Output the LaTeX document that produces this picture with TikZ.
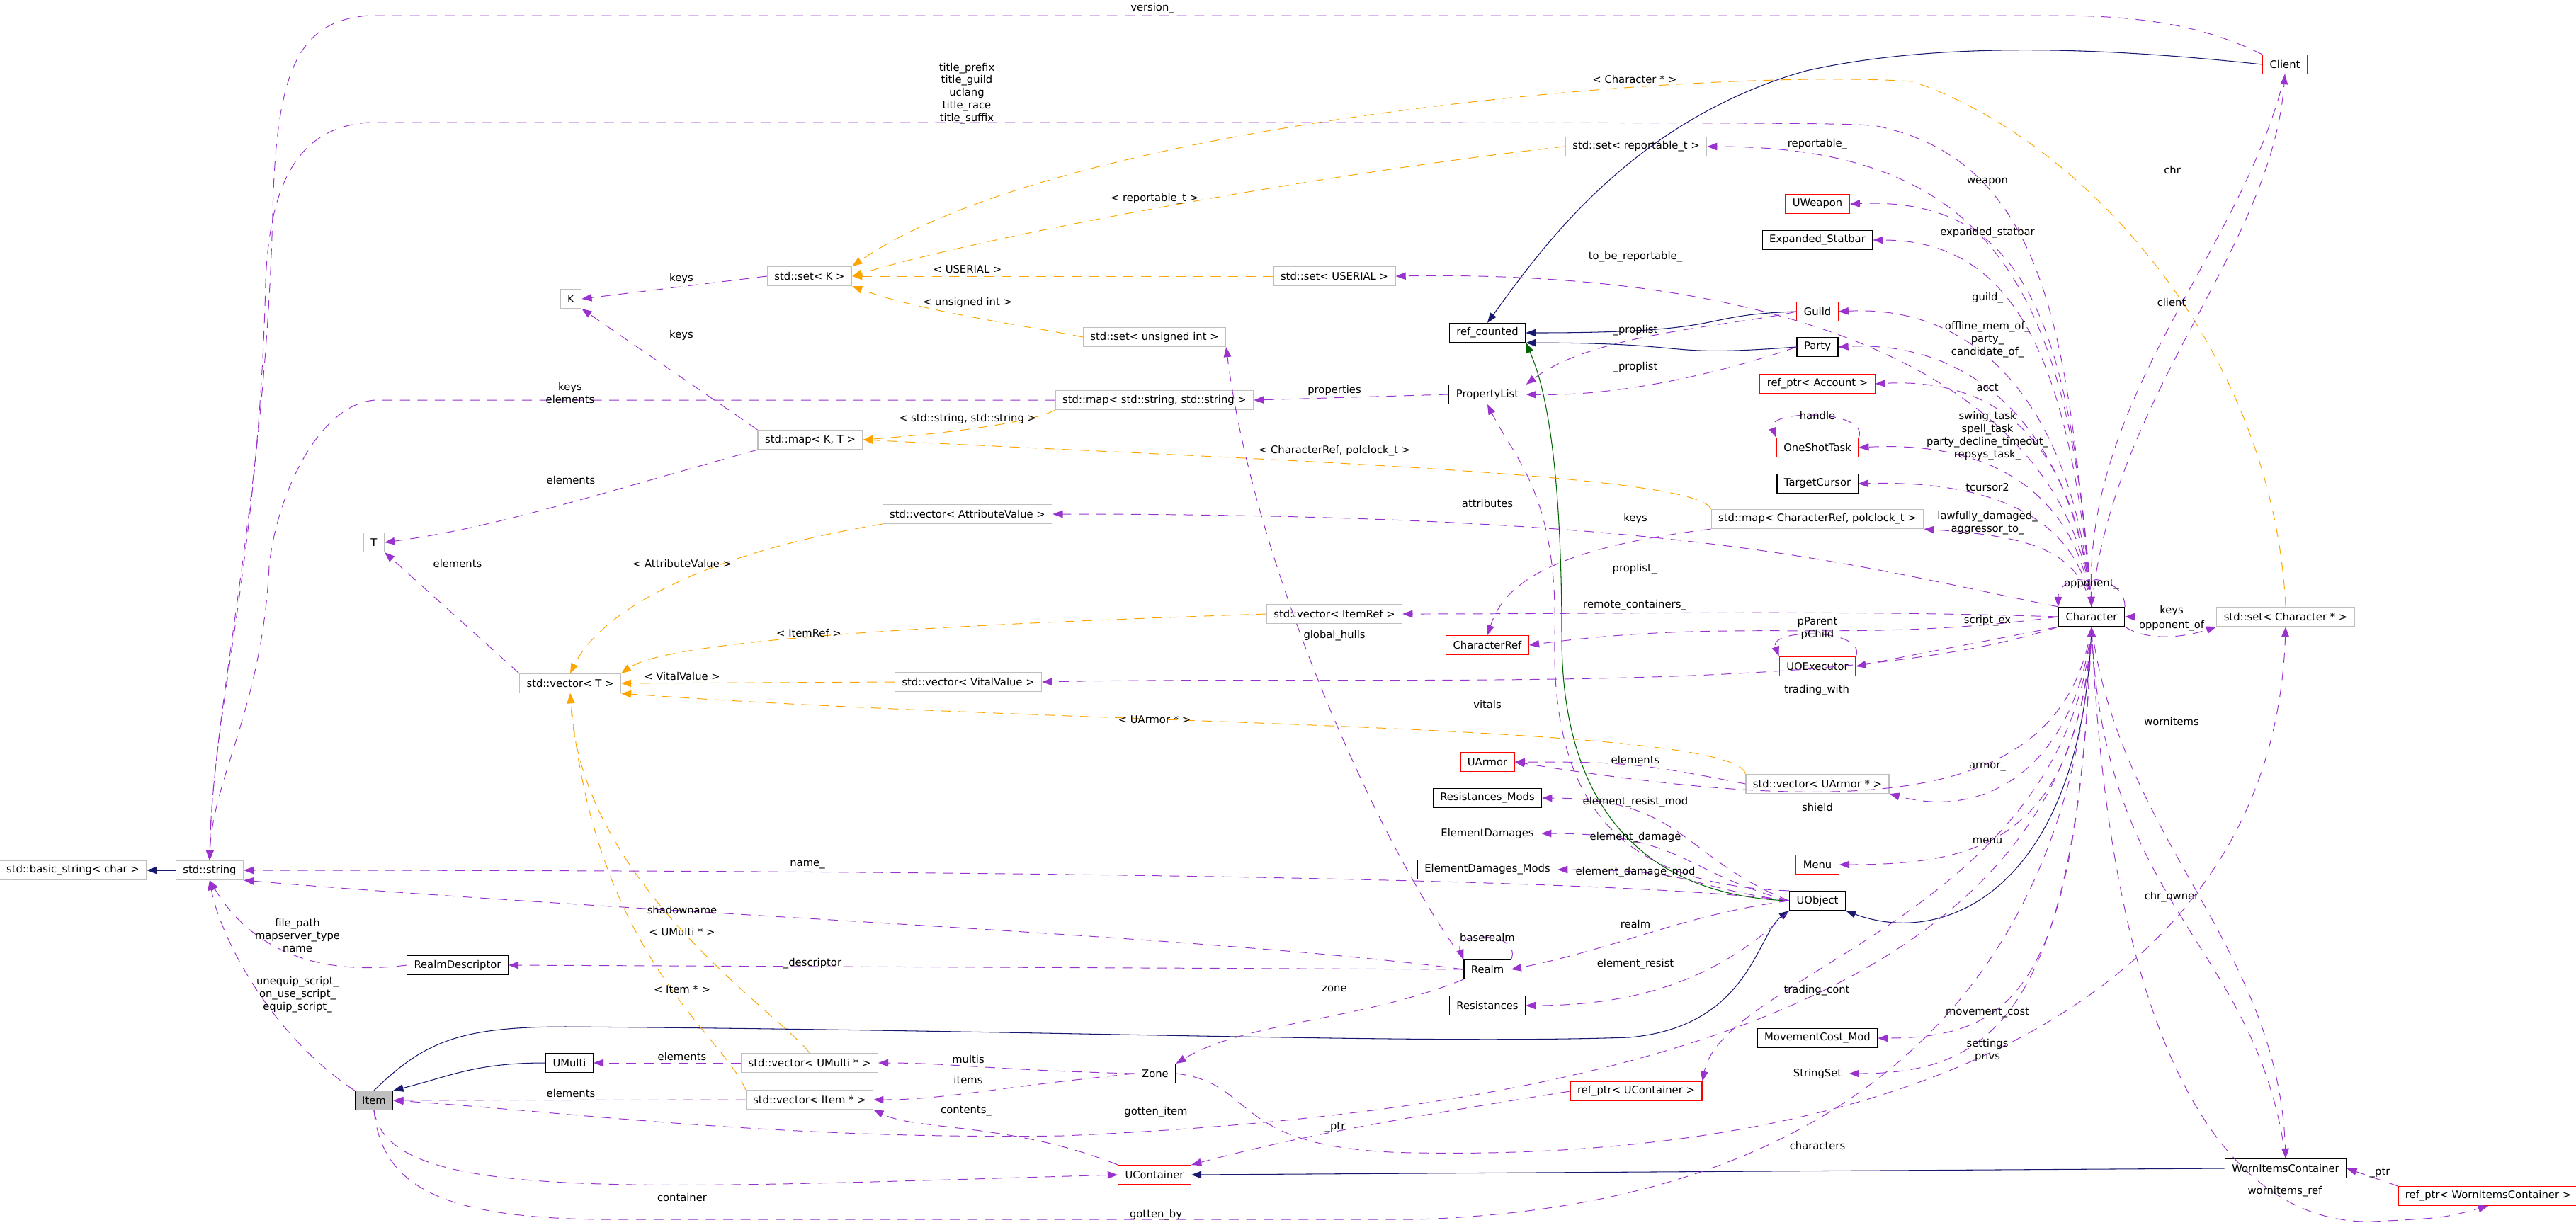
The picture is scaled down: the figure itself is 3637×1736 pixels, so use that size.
\documentclass[tikz,border=0pt]{standalone}
\usepackage{fontspec}
\setmainfont{DejaVu Sans}
\usetikzlibrary{arrows.meta}

\definecolor{usecol}{HTML}{9A32CD}
\definecolor{tplcol}{HTML}{FFA500}
\definecolor{inhcol}{HTML}{191970}
\definecolor{protcol}{HTML}{006400}
\definecolor{boxgray}{HTML}{BFBFBF}

\tikzset{
  cls/.style={draw=black, line width=0.35pt, minimum height=0.27cm, inner xsep=0.1cm, inner ysep=0pt, font=\fontsize{4.2}{5}\selectfont},
  undoc/.style={cls, draw=red},
  std/.style={cls, draw=boxgray},
  lbl/.style={font=\fontsize{4.2}{5.1}\selectfont, align=center, inner sep=0pt},
  use/.style={draw=usecol, line width=0.28pt, dash pattern=on 4pt off 3pt, -{Triangle[length=4pt,width=3pt,fill=usecol]}},
  tpl/.style={use, draw=tplcol, -{Triangle[length=4pt,width=3pt,fill=tplcol]}},
  inh/.style={draw=inhcol, line width=0.3pt, -{Triangle[length=4pt,width=3pt,fill=inhcol]}},
  prot/.style={inh, draw=protcol, -{Triangle[length=4pt,width=3pt,fill=protcol]}}
}

\begin{document}
\begin{tikzpicture}[x=0.01cm, y=-0.01cm]
  \useasboundingbox (0,0) rectangle (3637,1736);

  % nodes
  \node[std] (basic) at (103,1229) {std::basic\_string< char >};
  \node[std] (str) at (296,1229) {std::string};
  \node[std] (k) at (806,422) {K};
  \node[std] (t) at (528,766) {T};
  \node[std] (setk) at (1143,390) {std::set< K >};
  \node[std] (mapkt) at (1144,621) {std::map< K, T >};
  \node[std] (vect) at (805,965) {std::vector< T >};
  \node[std] (setrep) at (2310,207) {std::set< reportable\_t >};
  \node[std] (setus) at (1884,390) {std::set< USERIAL >};
  \node[std] (setui) at (1630,476) {std::set< unsigned int >};
  \node[std] (mapstr) at (1630,565) {std::map< std::string, std::string >};
  \node[std] (vecattr) at (1366,726) {std::vector< AttributeValue >};
  \node[std] (vecir) at (1884,867) {std::vector< ItemRef >};
  \node[std] (vecvit) at (1367,963) {std::vector< VitalValue >};
  \node[std] (mapcr) at (2566,733) {std::map< CharacterRef, polclock\_t >};
  \node[std] (setcp) at (3227,871) {std::set< Character * >};
  \node[std] (vecua) at (2566,1107) {std::vector< UArmor * >};
  \node[std] (vecum) at (1143,1501) {std::vector< UMulti * >};
  \node[std] (vecip) at (1143,1553) {std::vector< Item * >};
  \node[cls] (refc) at (2100,470) {ref\_counted};
  \node[cls] (plist) at (2100,557) {PropertyList};
  \node[undoc] (client) at (3226,91) {Client};
  \node[undoc] (uweap) at (2566,288) {UWeapon};
  \node[cls] (expst) at (2566,339) {Expanded\_Statbar};
  \node[undoc] (guild) at (2566,440) {Guild};
  \node[cls] (party) at (2566,490) {Party};
  \node[undoc] (racct) at (2566,542) {ref\_ptr< Account >};
  \node[undoc] (oneshot) at (2566,632) {OneShotTask};
  \node[cls] (tcur) at (2566,683) {TargetCursor};
  \node[cls] (chr) at (2953,871) {Character};
  \node[undoc] (chref) at (2100,911) {CharacterRef};
  \node[undoc] (uoexec) at (2566,941) {UOExecutor};
  \node[undoc] (uarmor) at (2100,1076) {UArmor};
  \node[cls] (resmod) at (2100,1127) {Resistances\_Mods};
  \node[cls] (eldam) at (2100,1177) {ElementDamages};
  \node[cls] (eldammod) at (2100,1228) {ElementDamages\_Mods};
  \node[undoc] (menu) at (2566,1221) {Menu};
  \node[cls] (uobj) at (2566,1272) {UObject};
  \node[cls] (rdesc) at (646,1363) {RealmDescriptor};
  \node[cls] (realm) at (2100,1369) {Realm};
  \node[cls] (resist) at (2100,1420) {Resistances};
  \node[cls] (movc) at (2566,1466) {MovementCost\_Mod};
  \node[cls] (umulti) at (804,1501) {UMulti};
  \node[cls] (zone) at (1631,1516) {Zone};
  \node[undoc] (sset) at (2566,1516) {StringSet};
  \node[undoc] (refuc) at (2310,1541) {ref\_ptr< UContainer >};
  \node[cls, fill=boxgray] (item) at (528,1554) {Item};
  \node[undoc] (ucont) at (1630,1659) {UContainer};
  \node[cls] (worn) at (3227,1650) {WornItemsContainer};
  \node[undoc] (rworn) at (3513,1689) {ref\_ptr< WornItemsContainer >};

  % inheritance
  \draw[inh] (str) -- (basic);
  \draw[inh] (client.west) .. controls (3000,70) and (2750,55) .. (2550,100) .. controls (2300,170) and (2170,360) .. (refc.north);
  \draw[inh] (guild.west) .. controls +(-150,5) and +(300,0) .. (refc.east);
  \draw[inh] (party.west) .. controls +(-200,15) and +(250,0) .. (refc.south east);
  \draw[prot] (uobj.west) .. controls (2330,1265) and (2205,1150) .. (2205,900) .. controls (2205,600) and (2170,520) .. (refc.south east);
  \draw[inh] (chr.south) .. controls (2940,1250) and (2750,1340) .. (uobj.south east);
  \draw[inh] (item.north) .. controls (600,1470) and (650,1450) .. (800,1450) .. controls (1500,1455) and (2000,1475) .. (2300,1465) .. controls (2470,1450) and (2480,1320) .. (uobj.south west);
  \draw[inh] (umulti.west) .. controls +(-100,0) and +(80,-20) .. (item.north east);
  \draw[inh] (worn.west) -- (ucont.east);

  % templates
  \draw[tpl] (setcp.north) .. controls (3210,500) and (2950,200) .. (2700,115) .. controls (2400,95) and (1500,170) .. (setk.north east);
  \draw[tpl] (setrep.west) .. controls (1900,240) and (1400,330) .. (setk.east);
  \draw[tpl] (setus.west) -- (setk.east);
  \draw[tpl] (setui.west) .. controls (1450,460) and (1300,440) .. (setk.south east);
  \draw[tpl] (mapstr.south west) .. controls (1450,600) and (1300,615) .. (mapkt.east);
  \draw[tpl] (mapcr.north west) .. controls (2400,670) and (1800,650) .. (mapkt.east);
  \draw[tpl] (vecattr.south west) .. controls (1000,780) and (850,860) .. (vect.north);
  \draw[tpl] (vecir.west) .. controls (1400,880) and (950,900) .. (vect.north east);
  \draw[tpl] (vecvit.west) -- (vect.east);
  \draw[tpl] (vecua.north west) .. controls (2450,1020) and (1500,1025) .. (vect.south east);
  \draw[tpl] (vecum.north) .. controls (1100,1430) and (820,1250) .. (vect.south);
  \draw[tpl] (vecip.north west) .. controls (1020,1460) and (840,1350) .. (vect.south);

  % usage: to std::string
  \draw[use] (client.north west) .. controls (3100,30) and (3000,22) .. (2900,22) -- (520,22) .. controls (420,30) and (390,100) .. (385,300) .. controls (375,700) and (300,1000) .. (str.north);
  \draw[use] (chr.north) .. controls (2920,500) and (2900,230) .. (2650,178) .. controls (2600,173) .. (520,173) .. controls (420,180) and (380,260) .. (375,400) .. controls (365,800) and (300,1000) .. (str.north);
  \draw[use] (mapstr.west) -- (530,565) .. controls (450,570) and (390,700) .. (380,800) .. controls (370,1000) and (300,1100) .. (str.north);
  \draw[use] (uobj.west) .. controls +(-300,-40) and +(600,0) .. (str.east);
  \draw[use] (realm.west) .. controls (1700,1320) and (900,1290) .. (str.south east);
  \draw[use] (rdesc.west) .. controls (400,1385) and (330,1300) .. (str.south);
  \draw[use] (item.north west) .. controls (380,1460) and (310,1320) .. (str.south);

  % usage: left templates
  \draw[use] (setk.west) -- (k.east);
  \draw[use] (mapkt.north west) -- (k.south east);
  \draw[use] (mapkt.south west) .. controls +(-250,70) and +(150,-20) .. (t.east);
  \draw[use] (vect.north west) -- (t.south east);

  % usage: from Character (upper)
  \draw[use] (chr.north) .. controls +(-30,-450) and +(400,0) .. (setrep.east);
  \draw[use] (chr.north) .. controls +(-30,-400) and +(250,-10) .. (uweap.east);
  \draw[use] (chr.north) .. controls +(-30,-350) and +(200,0) .. (expst.east);
  \draw[use] (chr.north) .. controls +(-30,-300) and +(600,-10) .. (setus.east);
  \draw[use] (chr.north) .. controls +(-25,-280) and +(200,-10) .. (guild.east);
  \draw[use] (chr.north) .. controls +(-25,-240) and +(200,-10) .. (party.east);
  \draw[use] (chr.north) .. controls +(-20,-200) and +(200,-10) .. (racct.east);
  \draw[use] (chr.north) .. controls +(-20,-150) and +(200,-10) .. (oneshot.east);
  \draw[use] (chr.north) .. controls +(-20,-120) and +(200,-5) .. (tcur.east);
  \draw[use] (chr.north) .. controls +(-20,-80) and +(150,10) .. (mapcr.south east);
  \draw[use] (chr.north west) .. controls +(-300,-60) and +(900,0) .. (vecattr.east);
  \draw[use] (chr.west) .. controls +(-300,-10) and +(300,0) .. (vecir.east);
  \draw[use] (chr.west) .. controls +(-300,40) and +(300,-40) .. (chref.east);
  \draw[use] (chr.south west) .. controls +(-300,100) and +(500,-10) .. (vecvit.east);
  \draw[use] (chr.south west) .. controls +(-100,20) and +(150,-30) .. (uoexec.east);
  \draw[use] (chr.north) .. controls +(30,-300) and +(-20,250) .. (client.south);
  \draw[use] (client.south) .. controls +(-60,250) and +(-10,-300) .. (chr.north);
  \draw[use] (chr.north east) .. controls +(0,-50) and +(0,-50) .. (chr.north west);
  \draw[use] (chr.south east) .. controls +(40,25) and +(-30,10) .. (setcp.south west);
  \draw[use] (setcp.west) -- (chr.east);

  % usage: from Character (lower)
  \draw[use] (chr.south) .. controls +(-20,180) and +(150,40) .. (vecua.south east);
  \draw[use] (chr.south) .. controls +(-40,250) and +(500,80) .. (uarmor.east);
  \draw[use] (chr.south) .. controls +(-20,300) and +(200,0) .. (menu.east);
  \draw[use] (chr.south) .. controls +(-20,500) and +(200,0) .. (movc.east);
  \draw[use] (chr.south) .. controls +(-20,550) and +(200,0) .. (sset.east);
  \draw[use] (chr.south) .. controls +(-30,400) and +(30,-150) .. (refuc.north east);
  \draw[use] (chr.south) .. controls +(-20,550) and +(700,-30) .. (1500,1604) .. controls (1100,1610) and (800,1570) .. (item.east);
  \draw[use] (item.south) .. controls (540,1690) and (650,1725) .. (900,1722) -- (2000,1722) .. controls (2700,1700) and (2930,1300) .. (chr.south);
  \draw[use] (chr.south) .. controls +(40,300) and +(-10,-300) .. (worn.north);
  \draw[use] (worn.north) .. controls +(-40,-300) and +(20,400) .. (chr.south);
  \draw[use] (chr.south) .. controls (2980,1500) and (3150,1730) .. (3350,1725) .. controls (3450,1720) .. (rworn.south);
  \draw[use] (rworn.north west) -- (worn.east);
  \draw[use] (zone.east) .. controls (1780,1530) and (1730,1625) .. (2000,1628) .. controls (2700,1640) and (3210,1400) .. (setcp.south);

  % usage: UObject and the rest
  \draw[use] (uobj.north west) .. controls (2300,1250) and (2190,1150) .. (2195,900) .. controls (2200,700) and (2140,650) .. (plist.south);
  \draw[use] (uobj.west) .. controls +(-150,-60) and +(200,0) .. (resmod.east);
  \draw[use] (uobj.west) .. controls +(-150,-40) and +(200,0) .. (eldam.east);
  \draw[use] (uobj.west) .. controls +(-150,-20) and +(200,0) .. (eldammod.east);
  \draw[use] (uobj.west) .. controls +(-150,20) and +(150,-30) .. (realm.east);
  \draw[use] (uobj.south west) .. controls +(-100,100) and +(150,0) .. (resist.east);
  \draw[use] (vecua.west) .. controls +(-150,-30) and +(150,0) .. (uarmor.east);
  \draw[use] (guild.west) .. controls (2450,460) and (2250,470) .. (plist.north east);
  \draw[use] (party.west) .. controls (2450,520) and (2300,560) .. (plist.east);
  \draw[use] (plist.west) -- (mapstr.east);
  \draw[use] (mapcr.south west) .. controls +(-250,30) and +(20,-60) .. (chref.north);
  \draw[use] (oneshot.north east) .. controls +(15,-40) and +(-15,-40) .. (oneshot.north west);
  \draw[use] (uoexec.north east) .. controls +(15,-40) and +(-15,-40) .. (uoexec.north west);
  \draw[use] (realm.north east) .. controls +(15,-40) and +(-15,-40) .. (realm.north west);
  \draw[use] (realm.north west) .. controls (1950,1200) and (1770,800) .. (setui.south east);
  \draw[use] (realm.west) -- (rdesc.east);
  \draw[use] (realm.south west) .. controls +(-150,60) and +(100,-60) .. (zone.north east);
  \draw[use] (zone.west) .. controls +(-200,-5) and +(100,0) .. (vecum.east);
  \draw[use] (zone.west) .. controls +(-200,20) and +(100,0) .. (vecip.east);
  \draw[use] (vecum.west) -- (umulti.east);
  \draw[use] (vecip.west) -- (item.east);
  \draw[use] (ucont.north west) .. controls +(-150,-60) and +(60,30) .. (vecip.south east);
  \draw[use] (item.south) .. controls +(20,130) and +(-700,20) .. (ucont.west);
  \draw[use] (refuc.west) .. controls +(-250,40) and +(150,-40) .. (ucont.north east);

  % labels
  \node[lbl] (lversion) at (1627,12) {version\_};
  \node[lbl] (ltitles) at (1365,132) {title\_prefix\\title\_guild\\uclang\\title\_race\\title\_suffix};
  \node[lbl] (lcharp) at (2308,112) {< Character * >};
  \node[lbl] (lreptpl) at (1630,281) {< reportable\_t >};
  \node[lbl] (lustpl) at (1366,380) {< USERIAL >};
  \node[lbl] (luitpl) at (1366,427) {< unsigned int >};
  \node[lbl] (lprops) at (1884,551) {properties};
  \node[lbl] (lstrtpl) at (1366,591) {< std::string, std::string >};
  \node[lbl] (lcrtpl) at (1884,637) {< CharacterRef, polclock\_t >};
  \node[lbl] (lattr) at (2100,711) {attributes};
  \node[lbl] (lcrkeys) at (2309,732) {keys};
  \node[lbl] (lproplist) at (2308,804) {proplist\_};
  \node[lbl] (lremote) at (2308,855) {remote\_containers\_};
  \node[lbl] (lgprop) at (2309,467) {\_proplist};
  \node[lbl] (lpprop) at (2309,519) {\_proplist};
  \node[lbl] (ltobe) at (2309,363) {to\_be\_reportable\_};
  \node[lbl] (lrep) at (2566,204) {reportable\_};
  \node[lbl] (lweap) at (2806,257) {weapon};
  \node[lbl] (lexp) at (2806,329) {expanded\_statbar};
  \node[lbl] (lchr) at (3067,240) {chr};
  \node[lbl] (lclient) at (3066,427) {client};
  \node[lbl] (lguild) at (2806,421) {guild\_};
  \node[lbl] (lparty) at (2806,480) {offline\_mem\_of\_\\party\_\\candidate\_of\_};
  \node[lbl] (lacct) at (2806,547) {acct};
  \node[lbl] (lhandle) at (2566,587) {handle};
  \node[lbl] (ltasks) at (2806,616) {swing\_task\\spell\_task\\party\_decline\_timeout\_\\repsys\_task\_};
  \node[lbl] (ltcur) at (2806,688) {tcursor2};
  \node[lbl] (llawful) at (2806,739) {lawfully\_damaged\_\\aggressor\_to\_};
  \node[lbl] (lopp) at (2953,825) {opponent\_};
  \node[lbl] (lcpkeys) at (3066,862) {keys};
  \node[lbl] (lsetkeys) at (962,393) {keys};
  \node[lbl] (lmapkeys) at (962,473) {keys};
  \node[lbl] (lkeyel) at (805,555) {keys\\elements};
  \node[lbl] (lmapel) at (806,678) {elements};
  \node[lbl] (lvecel) at (646,796) {elements};
  \node[lbl] (lattrtpl) at (963,796) {< AttributeValue >};
  \node[lbl] (lirtpl) at (1142,894) {< ItemRef >};
  \node[lbl] (lvittpl) at (963,955) {< VitalValue >};
  \node[lbl] (lname) at (1140,1221) {name\_};
  \node[lbl] (lshadow) at (963,1285) {shadowname};
  \node[lbl] (lumtpl) at (963,1316) {< UMulti * >};
  \node[lbl] (lfile) at (420,1321) {file\_path\\mapserver\_type\\name};
  \node[lbl] (ldesc) at (1147,1361) {\_descriptor};
  \node[lbl] (lscript) at (420,1405) {unequip\_script\_\\on\_use\_script\_\\equip\_script\_};
  \node[lbl] (liptpl) at (963,1397) {< Item * >};
  \node[lbl] (lumel) at (963,1492) {elements};
  \node[lbl] (lipel) at (806,1544) {elements};
  \node[lbl] (lcont) at (963,1691) {container};
  \node[lbl] (lhulls) at (1884,898) {global\_hulls};
  \node[lbl] (lvitals) at (2100,995) {vitals};
  \node[lbl] (luatpl) at (1630,1016) {< UArmor * >};
  \node[lbl] (luael) at (2309,1073) {elements};
  \node[lbl] (lresmod) at (2309,1133) {element\_resist\_mod};
  \node[lbl] (leldam) at (2309,1183) {element\_damage};
  \node[lbl] (leldmod) at (2309,1232) {element\_damage\_mod};
  \node[lbl] (lrealm) at (2309,1305) {realm};
  \node[lbl] (lbase) at (2100,1324) {baserealm};
  \node[lbl] (lresist) at (2309,1362) {element\_resist};
  \node[lbl] (lzone) at (1884,1396) {zone};
  \node[lbl] (lmultis) at (1367,1496) {multis};
  \node[lbl] (litems) at (1367,1525) {items};
  \node[lbl] (lcontents) at (1364,1569) {contents\_};
  \node[lbl] (lgitem) at (1632,1571) {gotten\_item};
  \node[lbl] (lucptr) at (1885,1592) {\_ptr};
  \node[lbl] (lgby) at (1632,1716) {gotten\_by};
  \node[lbl] (lpar) at (2566,888) {pParent\\pChild};
  \node[lbl] (lscex) at (2806,877) {script\_ex};
  \node[lbl] (lopof) at (3066,884) {opponent\_of};
  \node[lbl] (ltrw) at (2565,975) {trading\_with};
  \node[lbl] (lworn) at (3066,1019) {wornitems};
  \node[lbl] (larmor) at (2806,1083) {armor\_};
  \node[lbl] (lshield) at (2566,1140) {shield};
  \node[lbl] (lmenu) at (2806,1187) {menu};
  \node[lbl] (lowner) at (3066,1267) {chr\_owner};
  \node[lbl] (ltrc) at (2565,1399) {trading\_cont};
  \node[lbl] (lmovc) at (2806,1430) {movement\_cost};
  \node[lbl] (lsett) at (2806,1483) {settings\\privs};
  \node[lbl] (lchars) at (2566,1618) {characters};
  \node[lbl] (lwptr) at (3360,1656) {\_ptr};
  \node[lbl] (lwref) at (3226,1683) {wornitems\_ref};
\end{tikzpicture}
\end{document}
